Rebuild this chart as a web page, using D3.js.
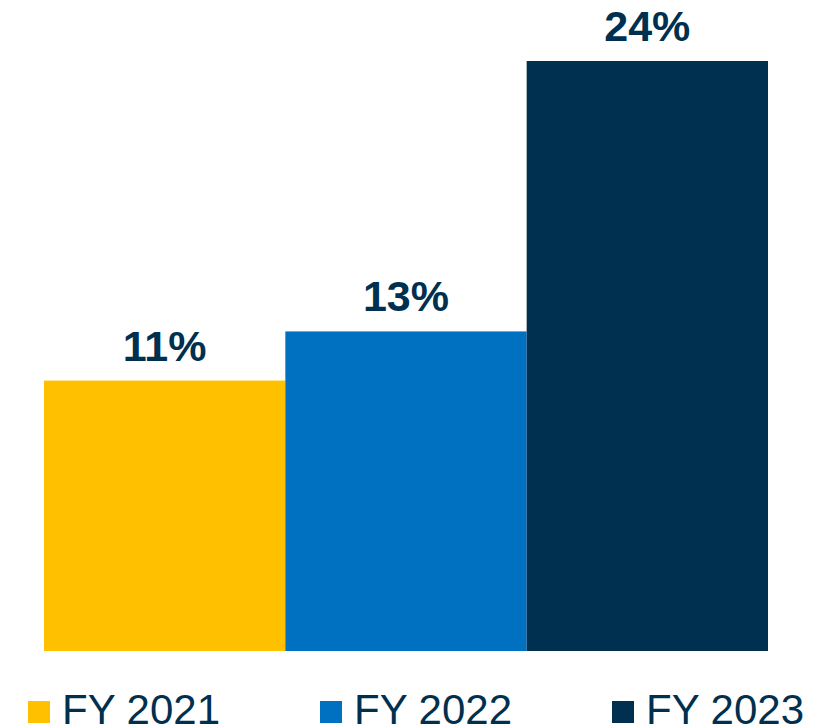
<!DOCTYPE html>
<html>
<head>
<meta charset="utf-8">
<script src="https://cdn.jsdelivr.net/npm/d3@7"></script>
<style>
  body { margin: 0; background: #fff; }
  svg { display: block; }
</style>
</head>
<body>
<div id="chart"></div>
<script>
// chart data
var years = ["FY 2021", "FY 2022", "FY 2023"];
var values = [11, 13, 24];
var colors = ["#FFC000", "#0070C0", "#00304F"];

var width = 833, height = 727;

var svg = d3.select("#chart").append("svg")
    .attr("width", width)
    .attr("height", height);

var x = d3.scaleBand().domain(years).range([44, 768]).padding(0);
var y = d3.scaleLinear().domain([0, 24]).range([651, 61]);
var color = d3.scaleOrdinal().domain(years).range(colors);

var data = years.map(function (d, i) { return { year: d, value: values[i] }; });

// bars
svg.selectAll(".bar")
    .data(data)
    .enter()
    .append("rect")
    .attr("class", "bar")
    .attr("x", function (d) { return x(d.year); })
    .attr("width", x.bandwidth())
    .attr("y", function (d) { return y(d.value); })
    .attr("height", function (d) { return y(0) - y(d.value); })
    .attr("fill", function (d) { return color(d.year); });

// value labels
svg.selectAll(".label")
    .data(data)
    .enter()
    .append("text")
    .attr("class", "label")
    .attr("x", function (d) { return x(d.year) + x.bandwidth() / 2; })
    .attr("y", function (d) { return y(d.value) - 20; })
    .attr("text-anchor", "middle")
    .style("font-family", "Arial, 'Liberation Sans', sans-serif")
    .style("font-weight", "bold")
    .style("font-size", "43px")
    .style("fill", "#00304F")
    .text(function (d) { return d.value + "%"; });

// legend
var legend = svg.selectAll(".legend")
    .data(years)
    .enter()
    .append("g")
    .attr("class", "legend")
    .attr("transform", function (d, i) { return "translate(" + (28 + i * 292) + ",701)"; });

legend.append("rect")
    .attr("width", 22)
    .attr("height", 22)
    .attr("fill", function (d) { return color(d); });

legend.append("text")
    .attr("x", 34)
    .attr("y", 22.5)
    .style("font-family", "Arial, 'Liberation Sans', sans-serif")
    .style("font-size", "42px")
    .style("fill", "#00304F")
    .text(function (d) { return d; });
</script>
</body>
</html>
